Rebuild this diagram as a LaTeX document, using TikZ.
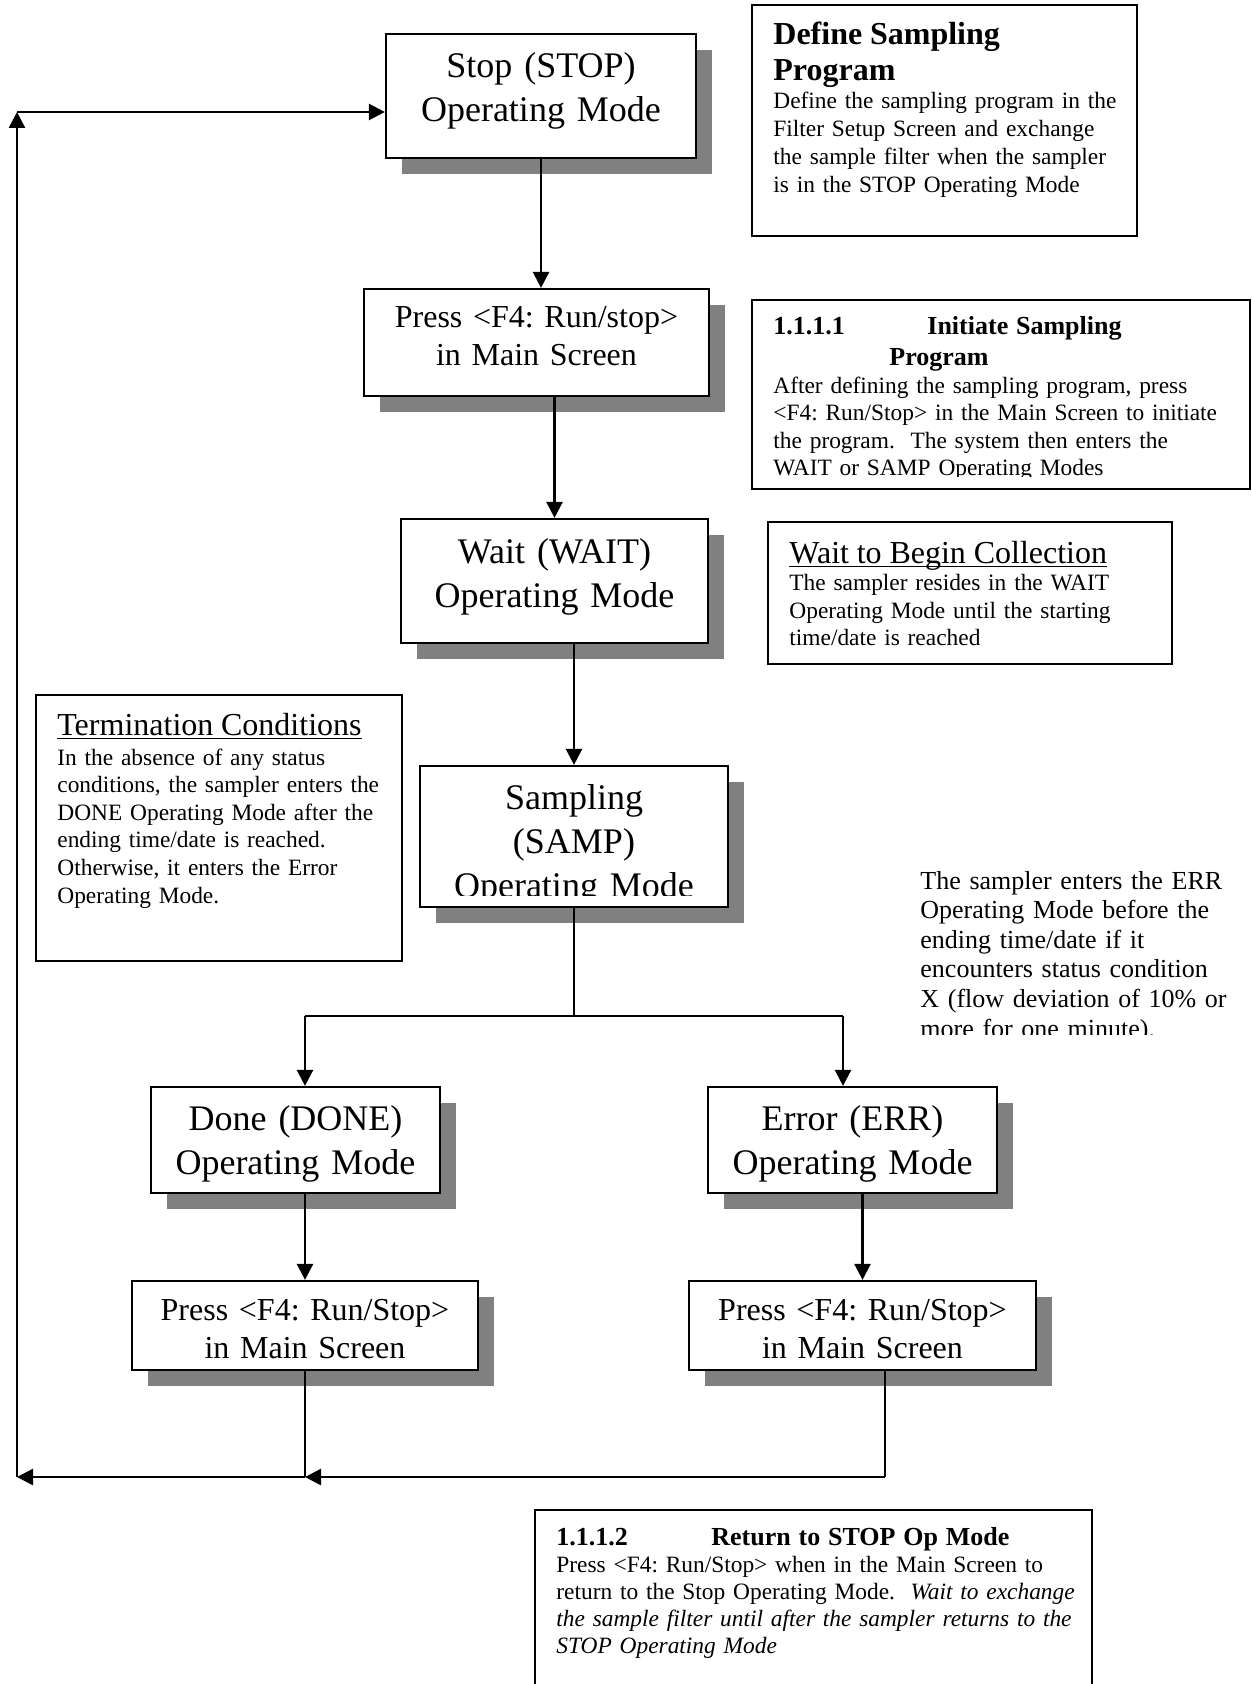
\documentclass[tikz,border=0pt]{standalone}
\usepackage{fontspec}
\setmainfont{Liberation Serif}
\usetikzlibrary{arrows.meta,shadows}
\frenchspacing

\newsavebox\ulbox
\newcommand\headul[1]{\sbox\ulbox{#1}\rlap{\rule[-2.2pt]{\wd\ulbox}{0.8pt}}\usebox\ulbox}
\newcommand\bighead{\fontsize{16}{18}\selectfont}
\newcommand\numhead{\fontsize{13}{15.5}\selectfont\bfseries}

\tikzset{
  modebox/.style={draw, line width=1.1pt, fill=white, inner sep=0pt,
    drop shadow={shadow xshift=8pt, shadow yshift=-8pt, fill=gray, opacity=1}},
  notebox/.style={draw, line width=1.1pt, fill=white, inner sep=0pt},
  flow/.style={line width=1.2pt, ->},
  feed/.style={line width=0.7pt},
  modetxt/.style={anchor=base, inner sep=0pt, text width=150pt, align=center,
    font=\fontsize{18}{22}\selectfont},
  keytxt/.style={anchor=base, inner sep=0pt, text width=170pt, align=center,
    font=\fontsize{16}{19}\selectfont},
  notetxt/.style={anchor=base west, inner sep=0pt, text width=300pt, align=left,
    font=\fontsize{11.7}{13.8}\selectfont},
}

\begin{document}
\begin{tikzpicture}[x=0.5pt, y=-0.5pt]
  \tikzset{>={Triangle[length=8pt,width=8pt]}}
  \useasboundingbox (0,0) rectangle (1251,1684);
  \clip (0,0) rectangle (1251,1684);

  % mode boxes
  \node[modebox, minimum width=155pt, minimum height=62pt] (stop) at (541,96) {};
  \node[modebox, minimum width=172.5pt, minimum height=53.5pt] (press1) at (536.5,342.5) {};
  \node[modebox, minimum width=153.5pt, minimum height=62pt] (wait) at (554.5,581) {};
  \node[modebox, minimum width=154pt, minimum height=70.5pt] (samp) at (574,836.5) {};
  \node[modebox, minimum width=144.5pt, minimum height=53pt] (done) at (295.5,1140) {};
  \node[modebox, minimum width=144.5pt, minimum height=53pt] (err) at (852.5,1140) {};
  \node[modebox, minimum width=173pt, minimum height=44.5pt] (press2) at (305,1325.5) {};
  \node[modebox, minimum width=173.5pt, minimum height=44.5pt] (press3) at (862.5,1325.5) {};

  \node[modetxt] (stoptxt) at (541,78) {Stop (STOP)\\Operating Mode};
  \node[keytxt] (press1txt) at (536.5,328) {Press <F4: Run/stop>\\in Main Screen};
  \node[modetxt] (waittxt) at (554.5,563) {Wait (WAIT)\\Operating Mode};
  \begin{scope}
    \clip (420,766) rectangle (728,895);
    \node[modetxt] (samptxt) at (574,809) {Sampling\\(SAMP)\\Operating Mode};
  \end{scope}
  \node[modetxt] (donetxt) at (295.5,1130) {Done (DONE)\\Operating Mode};
  \node[modetxt] (errtxt) at (852.5,1130) {Error (ERR)\\Operating Mode};
  \node[keytxt] (press2txt) at (305,1320) {Press <F4: Run/Stop>\\in Main Screen};
  \node[keytxt] (press3txt) at (862.5,1320) {Press <F4: Run/Stop>\\in Main Screen};

  % notes
  \node[notebox, minimum width=192.5pt, minimum height=115.5pt] (define) at (944.5,120.5) {};
  \node[notetxt, font=\fontsize{11.7}{14}\selectfont] (definetxt) at (773,45)
    {{\bighead\bfseries Define Sampling\\Program\par}Define the sampling program in the\\Filter Setup Screen and exchange\\the sample filter when the sampler\\is in the STOP Operating Mode};

  \node[notebox, minimum width=249pt, minimum height=94.5pt] (init) at (1001,394.5) {};
  \begin{scope}
    \clip (752,300) rectangle (1250,476);
    \node[notetxt, font=\fontsize{11.7}{13.75}\selectfont] (inittxt) at (773,335)
      {{\numhead\makebox[77pt][l]{1.1.1.1}Initiate Sampling\\\hspace*{58pt}Program\par}After defining the sampling program, press\\<F4: Run/Stop> in the Main Screen to initiate\\the program.~ The system then enters the\\WAIT or SAMP Operating Modes};
  \end{scope}

  \node[notebox, minimum width=202pt, minimum height=71pt] (waitnote) at (970,593) {};
  \node[notetxt] (waitnotetxt) at (789,563)
    {{\bighead\headul{Wait to Begin Collection}\par}The sampler resides in the WAIT\\Operating Mode until the starting\\time/date is reached};

  \node[notebox, minimum width=183pt, minimum height=133pt] (termnote) at (219,828) {};
  \node[notetxt] (termnotetxt) at (57,735)
    {{\bighead\headul{Termination Conditions}\par}\vspace{1.2pt}In the absence of any status\\conditions, the sampler enters the\\DONE Operating Mode after the\\ending time/date is reached.\\Otherwise, it enters the Error\\Operating Mode.};

  \begin{scope}
    \clip (900,860) rectangle (1251,1034);
    \node[notetxt, font=\fontsize{13}{14.8}\selectfont] (errnote) at (920,889)
      {The sampler enters the ERR\\Operating Mode before the\\ending time/date if it\\encounters status condition\\X (flow deviation of 10\% or\\more for one minute).};
  \end{scope}

  \node[notebox, minimum width=278.5pt, minimum height=110pt] (retnote) at (813.5,1620) {};
  \node[notetxt, font=\fontsize{11.7}{13.6}\selectfont] (retnotetxt) at (556,1545)
    {{\numhead\makebox[77.5pt][l]{1.1.1.2}Return to STOP Op Mode\par}Press <F4: Run/Stop> when in the Main Screen to\\return to the Stop Operating Mode.~ \textit{Wait to exchange}\\\textit{the sample filter until after the sampler returns to the}\\\textit{STOP Operating Mode}};

  % connectors
  \coordinate (split) at (574,1016);
  \coordinate (brL) at (305,1016);
  \coordinate (brR) at (843,1016);
  \coordinate (retL) at (305,1477);
  \coordinate (retR) at (885,1477);
  \coordinate (loopbot) at (17,1477);
  \coordinate (looptop) at (17,112);

  \draw[flow] (stop.south) -- (stop.south |- press1.north);
  \draw[flow] (press1.south -| wait.north) -- (wait.north);
  \draw[flow] (wait.south -| samp.north) -- (samp.north);
  \draw[feed] (samp.south) -- (split);
  \draw[line width=1.2pt] (brL) -- (brR);
  \draw[flow] (brL) -- (brL |- done.north);
  \draw[flow] (brR) -- (brR |- err.north);
  \draw[flow] (done.south -| press2.north) -- (press2.north);
  \draw[flow] (err.south -| press3.north) -- (press3.north);
  \draw[feed] (press2.south) -- (retL);
  \draw[feed] (press3.south -| retR) -- (retR);
  \draw[flow] (retR) -- (retL);
  \draw[flow] (retL) -- (loopbot);
  \draw[flow] (loopbot) -- (looptop);
  \draw[flow] (looptop) -- (looptop -| stop.west);
\end{tikzpicture}
\end{document}
